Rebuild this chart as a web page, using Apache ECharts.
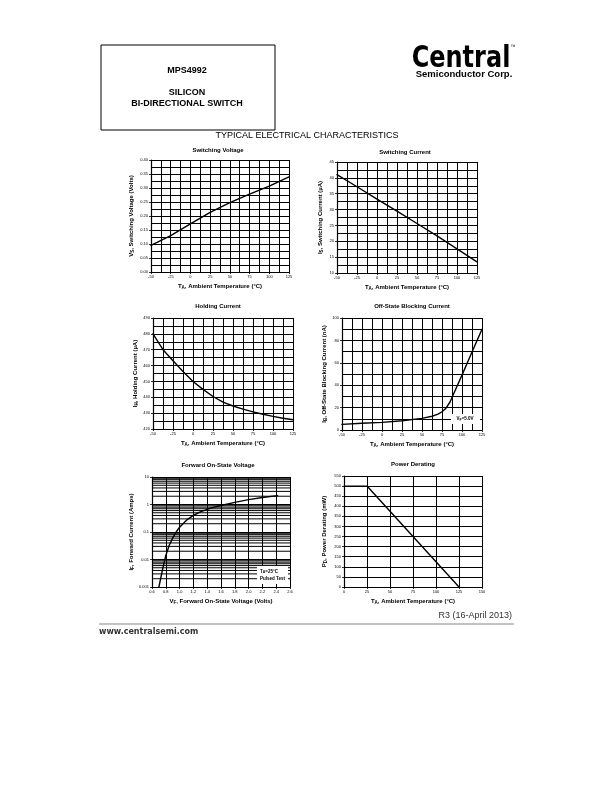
<!DOCTYPE html>
<html><head><meta charset="utf-8">
<script src="https://cdn.jsdelivr.net/npm/echarts@6/dist/echarts.min.js"></script>
<style>html,body{margin:0;padding:0;background:#fff}#c{width:612px;height:792px}</style>
</head><body><div id="c"></div>
<script>
// ---------------- DATA ----------------
const svTemp = [-50, -25, 0, 25, 50, 75, 100, 125];
const svVolts = [0.095, 0.130, 0.172, 0.213, 0.248, 0.278, 0.307, 0.340];

const scTemp = [-50, -25, 0, 25, 50, 75, 100, 125];
const scCurrent = [41.0, 37.2, 33.3, 29.5, 25.6, 21.7, 17.6, 13.5];

const hcTemp = [-50, -37.5, -25, -12.5, 0, 12.5, 25, 37.5, 50, 62.5, 75, 87.5, 100, 112.5, 125];
const hcCurrent = [480, 470, 463, 456.3, 450, 445, 440.5, 437, 434.5, 432.5, 430.8, 429.3, 428, 426.8, 425.8];

const obTemp = [-50, -25, 0, 25, 50, 62.5, 70, 75, 80, 85, 90, 100, 112.5, 125];
const obCurrent = [5, 6, 6.8, 8.3, 10.4, 12.3, 14.2, 16.3, 19.5, 25, 33, 49, 69.7, 90];

const fvVolts = [0.70, 0.75, 0.80, 0.85, 0.90, 0.95, 1.0, 1.1, 1.2, 1.3, 1.4, 1.5, 1.6, 1.8, 2.0, 2.2, 2.42];
const fvCurrent = [0.001, 0.004, 0.014, 0.033, 0.06, 0.1, 0.15, 0.27, 0.4, 0.54, 0.67, 0.8, 0.92, 1.2, 1.5, 1.8, 2.1];

const pdTemp = [0, 25, 125];
const pdPower = [500, 500, 0];

const chartTitles = ['Switching Voltage', 'Switching Current', 'Holding Current',
  'Off-State Blocking Current', 'Forward On-State Voltage', 'Power Derating'];

// log-axis minor grid values (2..9 in each decade)
const logDecades = [0.001, 0.01, 0.1, 1];
const logMinor = [];
logDecades.forEach(d => { for (let k = 2; k <= 9; k++) logMinor.push(+(d * k).toPrecision(3)); });
const fvRange = [0.6, 2.6];

// ---------------- STYLE ----------------
const FONT = 'Liberation Sans, Arial, sans-serif';
const gridLine = { color: '#000', width: 1 };
const rich = {
  b: { fontSize: 6, fontWeight: 'bold', fontFamily: FONT, color: '#000', lineHeight: 8 },
  s: { fontSize: 4.5, fontWeight: 'bold', fontFamily: FONT, color: '#000', lineHeight: 4, verticalAlign: 'bottom' }
};
function nm(main, sub, rest) { return '{b|' + main + '}{s|' + sub + '}{b|' + rest + '}'; }

function valAxis(gi, min, max, interval, minor, name, gap, fmt) {
  return {
    type: 'value', gridIndex: gi, min, max, interval,
    name, nameLocation: 'middle', nameGap: gap,
    nameTextStyle: { rich },
    axisLine: { show: true, onZero: false, lineStyle: { color: '#000', width: 1.2 } },
    axisTick: { show: true, length: 2, lineStyle: { color: '#000', width: 0.8 } },
    axisLabel: { fontSize: 4, color: '#000', fontFamily: FONT, margin: 3, formatter: fmt },
    splitLine: { show: true, lineStyle: gridLine },
    minorTick: { show: minor > 1, splitNumber: minor, length: 0 },
    minorSplitLine: { show: minor > 1, lineStyle: gridLine }
  };
}

const fmt0 = v => String(Math.round(v * 1000) / 1000);
const fmt2 = v => v.toFixed(2);
const fmt1 = v => v.toFixed(1);

const grids = [
  { left: 151, top: 160, width: 138, height: 112 },
  { left: 337, top: 162, width: 140, height: 111 },
  { left: 153, top: 318, width: 140, height: 111 },
  { left: 342, top: 318, width: 140, height: 112 },
  { left: 152, top: 477, width: 138, height: 110 },
  { left: 344, top: 476, width: 138, height: 111 }
];

const TA = nm('T', 'A', ', Ambient Temperature (°C)');

const xAxes = [
  valAxis(0, -50, 125, 25, 2, TA, 10, fmt0),
  valAxis(1, -50, 125, 25, 2, TA, 10, fmt0),
  valAxis(2, -50, 125, 25, 2, TA, 10, fmt0),
  valAxis(3, -50, 125, 25, 2, TA, 10, fmt0),
  valAxis(4, 0.6, 2.6, 0.2, 1, nm('V', 'F', ', Forward On-State Voltage (Volts)'), 10, fmt1),
  valAxis(5, 0, 150, 25, 1, TA, 10, fmt0)
];
const logY = valAxis(4, 0.001, 10, null, 1, nm('I', 'F', ', Forward Current (Amps)'), 15, fmt0);
logY.type = 'log'; logY.logBase = 10; delete logY.interval;
const yAxes = [
  valAxis(0, 0, 0.4, 0.05, 2, nm('V', 'S', ', Switching Voltage (Volts)'), 16, fmt2),
  valAxis(1, 10, 45, 5, 2, nm('I', 'S', ', Switching Current (µA)'), 13, fmt0),
  valAxis(2, 420, 490, 10, 2, nm('I', 'H', ', Holding Current (µA)'), 14, fmt0),
  valAxis(3, 0, 100, 20, 2, nm('I', 'B', ', Off-State Blocking Current (nA)'), 13, fmt0),
  logY,
  valAxis(5, 0, 550, 50, 1, nm('P', 'D', ', Power Derating (mW)'), 16, fmt0)
];

function zip(a, b) { return a.map((v, i) => [v, b[i]]); }
const curve = { color: '#000', width: 1.4, join: 'round', cap: 'round' };
function lineSeries(i, data) {
  return { type: 'line', xAxisIndex: i, yAxisIndex: i, data, showSymbol: false, symbol: 'none',
    smooth: false, lineStyle: curve, silent: true, animation: false, z: 5 };
}

const series = [
  lineSeries(0, zip(svTemp, svVolts)),
  lineSeries(1, zip(scTemp, scCurrent)),
  lineSeries(2, zip(hcTemp, hcCurrent)),
  lineSeries(3, zip(obTemp, obCurrent)),
  lineSeries(4, zip(fvVolts, fvCurrent)),
  lineSeries(5, zip(pdTemp, pdPower))
];
// log minor grid lines for the forward-voltage chart
logMinor.forEach(v => series.push({ type: 'line', xAxisIndex: 4, yAxisIndex: 4, data: [[fvRange[0], v], [fvRange[1], v]],
  symbol: 'none', showSymbol: false, lineStyle: { color: '#000', width: 1 }, silent: true, animation: false, z: 1 }));

// titles
const titlePos = [[218, 150], [405, 152], [218, 306], [412, 306], [218, 465], [413, 464]];
const graphic = [];
chartTitles.forEach((t, i) => graphic.push({ type: 'text', x: titlePos[i][0], y: titlePos[i][1], z: 10,
  style: { text: t, font: 'bold 6px ' + FONT, fill: '#000', textAlign: 'center', textVerticalAlign: 'middle' } }));

// header box
graphic.push({ type: 'rect', shape: { x: 101, y: 45, width: 174, height: 85 }, style: { fill: 'none', stroke: '#000', lineWidth: 1 } });
graphic.push({ type: 'text', x: 187, y: 71, style: { text: 'MPS4992', font: 'bold 9px ' + FONT, fill: '#000', textAlign: 'center', textVerticalAlign: 'middle' } });
graphic.push({ type: 'text', x: 187, y: 93, style: { text: 'SILICON', font: 'bold 9px ' + FONT, fill: '#000', textAlign: 'center', textVerticalAlign: 'middle' } });
graphic.push({ type: 'text', x: 187, y: 103.5, style: { text: 'BI-DIRECTIONAL SWITCH', font: 'bold 9px ' + FONT, fill: '#000', textAlign: 'center', textVerticalAlign: 'middle' } });
graphic.push({ type: 'text', x: 307, y: 136, style: { text: 'TYPICAL ELECTRICAL CHARACTERISTICS', font: '9px ' + FONT, fill: '#000', textAlign: 'center', textVerticalAlign: 'middle' } });

// logo
graphic.push({ type: 'text', x: 461, y: 59, scaleX: 0.8, style: { text: 'Central', font: 'bold 30px "DejaVu Sans", sans-serif', fill: '#000', textAlign: 'center', textVerticalAlign: 'middle' } });
graphic.push({ type: 'text', x: 513, y: 47, style: { text: '™', font: '5px ' + FONT, fill: '#000', textAlign: 'center', textVerticalAlign: 'middle' } });
graphic.push({ type: 'text', x: 464, y: 74.5, style: { text: 'Semiconductor Corp.', font: 'bold 9.5px ' + FONT, fill: '#000', textAlign: 'center', textVerticalAlign: 'middle' } });

// footer
graphic.push({ type: 'text', x: 512, y: 616, style: { text: 'R3 (16-April 2013)', font: '9px ' + FONT, fill: '#333', textAlign: 'right', textVerticalAlign: 'middle' } });
graphic.push({ type: 'line', shape: { x1: 99, y1: 624, x2: 514, y2: 624 }, style: { stroke: '#888', lineWidth: 1.2 } });
graphic.push({ type: 'text', x: 99, y: 632, style: { text: 'www.centralsemi.com', font: 'bold 8px "DejaVu Sans", sans-serif', fill: '#333', textAlign: 'left', textVerticalAlign: 'middle' } });

// annotations
const smallRich = { b: { fontSize: 4.5, fontWeight: 'bold', fontFamily: FONT, fill: '#000', lineHeight: 6 },
  s: { fontSize: 3.5, fontWeight: 'bold', fontFamily: FONT, fill: '#000', lineHeight: 4, verticalAlign: 'bottom' } };
graphic.push({ type: 'rect', z: 8, shape: { x: 451, y: 414, width: 29, height: 10 }, style: { fill: '#fff' } });
graphic.push({ type: 'text', z: 9, x: 465, y: 419, style: { text: nm('V', 'F', '=5.0V'), textAlign: 'center', textVerticalAlign: 'middle', rich: smallRich } });
graphic.push({ type: 'rect', z: 8, shape: { x: 257, y: 566, width: 31, height: 18 }, style: { fill: '#fff' } });
graphic.push({ type: 'text', z: 9, x: 260, y: 571.5, style: { text: nm('T', 'A', '=25°C'), textAlign: 'left', textVerticalAlign: 'middle', rich: smallRich } });
graphic.push({ type: 'text', z: 9, x: 260, y: 579, style: { text: 'Pulsed Test', font: 'bold 4.5px ' + FONT, fill: '#000', textAlign: 'left', textVerticalAlign: 'middle' } });

const chart = echarts.init(document.getElementById('c'), null, { renderer: 'canvas' });
chart.setOption({
  backgroundColor: '#fff',
  animation: false,
  grid: grids,
  xAxis: xAxes,
  yAxis: yAxes,
  series,
  graphic
});
</script></body></html>
